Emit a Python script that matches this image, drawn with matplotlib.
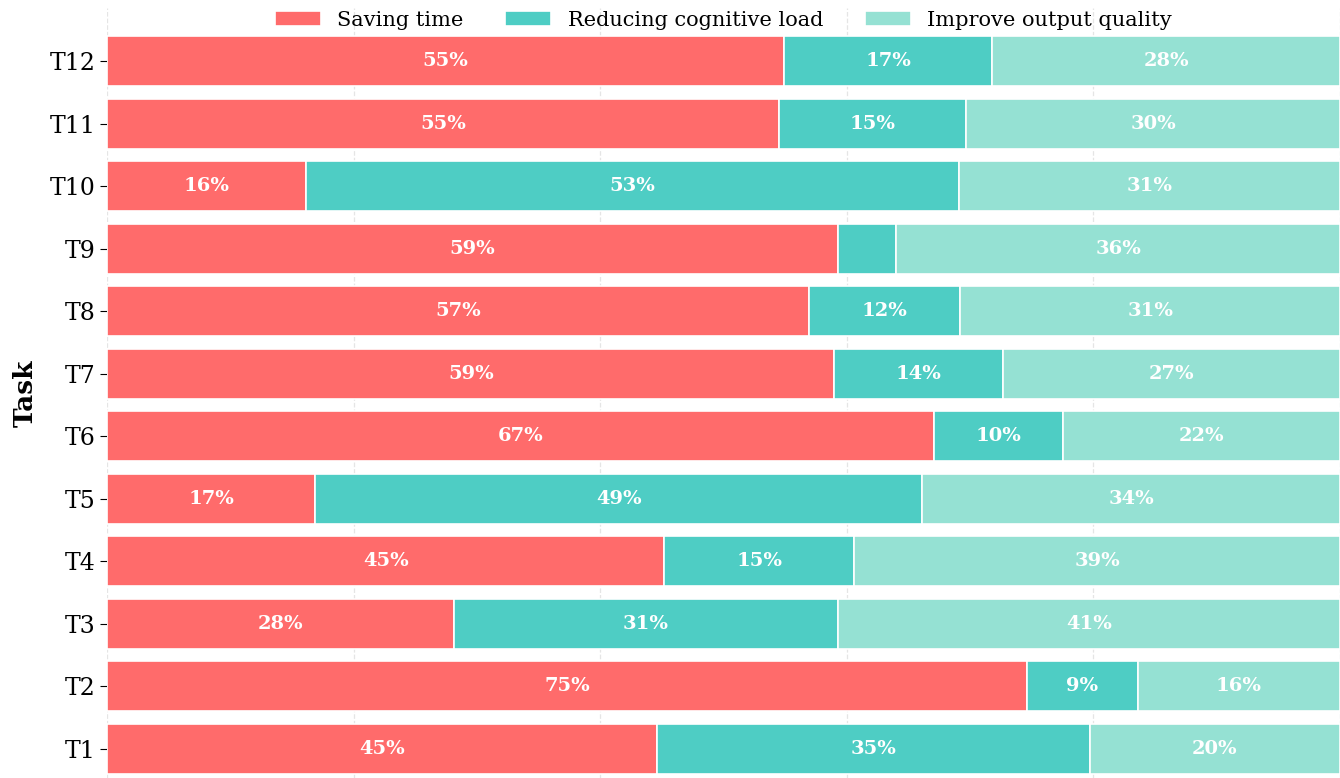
import numpy as np
import matplotlib.pyplot as plt

plt.rcParams['font.family'] = 'DejaVu Serif'

tasks = ['T1', 'T2', 'T3', 'T4', 'T5', 'T6', 'T7', 'T8', 'T9', 'T10', 'T11', 'T12']
saving_time = [44.6, 74.6, 28.1, 45.2, 16.9, 67.1, 59.0, 56.9, 59.3, 16.1, 54.5, 54.9]
reducing_load = [35.1, 9.0, 31.2, 15.4, 49.2, 10.4, 13.7, 12.3, 4.7, 53.0, 15.2, 16.9]
improve_quality = [20.3, 16.4, 40.7, 39.4, 33.9, 22.5, 27.3, 30.8, 36.0, 30.9, 30.3, 28.2]

labels = ['Saving time', 'Reducing cognitive load', 'Improve output quality']
colors = ['#FF6B6B', '#4ECDC4', '#95E1D3']

fig = plt.figure(figsize=(13.4, 7.78), dpi=100)
ax = fig.add_axes([0.0799, 0.0, 0.9201, 0.9897])

y = np.arange(len(tasks))
left = np.zeros(len(tasks))
for vals, lab, col in zip([saving_time, reducing_load, improve_quality], labels, colors):
    vals = np.array(vals) / 100
    ax.barh(y, vals, left=left, height=0.8, color=col, edgecolor='white',
            linewidth=1.2, label=lab, zorder=2)
    for yi, l, v in zip(y, left, vals):
        if v >= 0.05:
            ax.text(l + v / 2, yi, f'{v*100:.0f}%', ha='center', va='center',
                    color='white', fontsize=14, fontweight='bold', zorder=4)
    left += vals

ax.set_xlim(0, 1)
ax.set_ylim(-0.464, 11.847)
ax.set_yticks(y)
ax.set_yticklabels(tasks, fontsize=17)
ax.set_xticks([0, 0.2, 0.4, 0.6, 0.8, 1.0])
ax.tick_params(axis='x', bottom=False, labelbottom=False)
ax.tick_params(axis='y', length=5)
ax.set_ylabel('Task', fontsize=19, fontweight='bold', labelpad=8)
ax.grid(axis='x', linestyle='--', color='#aaaaaa', alpha=0.3, linewidth=0.9, zorder=3)
for s in ax.spines.values():
    s.set_visible(False)

ax.legend(loc='center', bbox_to_anchor=(0.5, 0.984), ncol=3, frameon=False,
          fontsize=15, handlelength=2.2, columnspacing=2.0)

fig.savefig('out.png', dpi=100)
